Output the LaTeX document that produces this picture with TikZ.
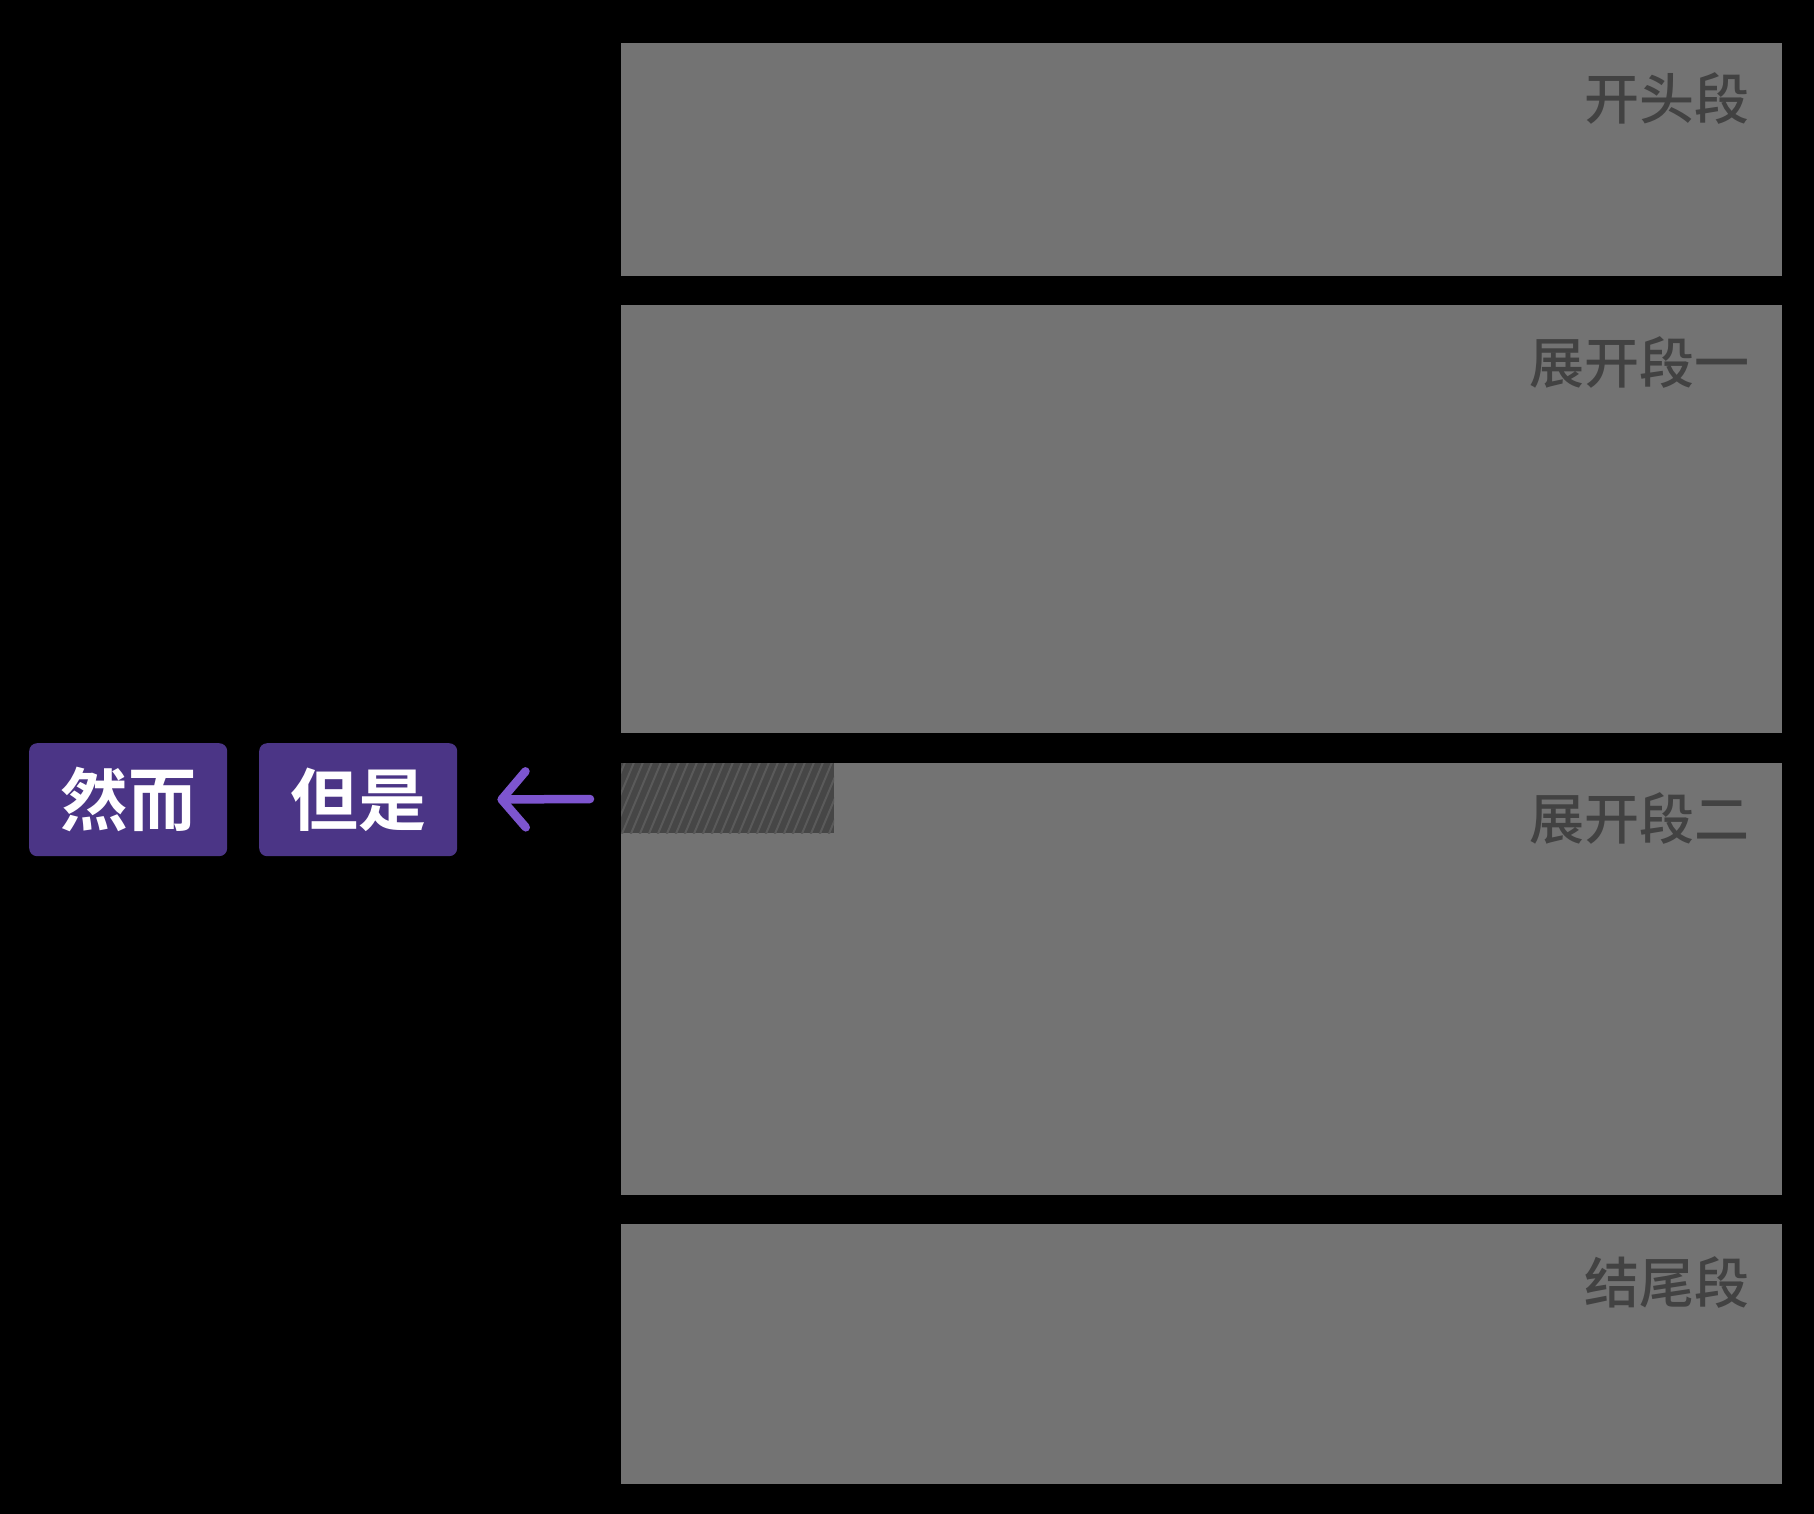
\documentclass[tikz,border=0pt]{standalone}
\usepackage{fontspec}
\newfontfamily\cjkm{Noto Sans CJK SC Medium}
\newfontfamily\cjkb{Noto Sans CJK SC Bold}
\usetikzlibrary{arrows.meta}
\definecolor{bgc}{HTML}{000000}
\definecolor{boxc}{HTML}{737373}
\definecolor{lblc}{HTML}{424242}
\definecolor{tagc}{HTML}{4B3586}
\definecolor{arrc}{HTML}{7D55CF}
\definecolor{hatchbg}{HTML}{464646}
\definecolor{hatchln}{HTML}{5A5A5A}
\tikzset{
  seg/.style={fill=boxc, draw=none, rectangle, anchor=north west, inner sep=0pt, minimum width=1161pt},
  lbl/.style={anchor=base east, inner sep=0pt, text=lblc, font=\cjkm\fontsize{55pt}{55pt}\selectfont},
  tag/.style={fill=tagc, rounded corners=8pt, anchor=north west, inner sep=0pt, minimum width=198pt, minimum height=113pt, text=white, font=\cjkb\fontsize{68pt}{68pt}\selectfont},
  arr/.style={draw=arrc, line width=8.5pt, line cap=round, -{Straight Barb[length=24pt,width=56pt,round]}}
}
\begin{document}
\begin{tikzpicture}[x=1pt,y=-1pt]
\fill[bgc] (0,0) rectangle (1814,1514);
\useasboundingbox (0,0) rectangle (1814,1514);
% segments
\node[seg, minimum height=233pt] (b1) at (621,43) {};
\node[seg, minimum height=428pt] (b2) at (621,305) {};
\node[seg, minimum height=432pt] (b3) at (621,763) {};
\node[seg, minimum height=260pt] (b4) at (621,1224) {};
% hatched region
\begin{scope}
\clip (621,763) rectangle (834,833);
\fill[hatchbg] (621,763) rectangle (834,833);
\foreach \x in {585,594,...,840} {
  \draw[hatchln, line width=2pt] (\x,836) -- (\x+32,760);
}
\end{scope}
% labels
\node[lbl] (l1) at (1750,120) {开头段};
\node[lbl] (l2) at (1750,383) {展开段一};
\node[lbl] (l3) at (1750,839) {展开段二};
\node[lbl] (l4) at (1750,1303) {结尾段};
% tags
\node[tag] (t1) at (29,743) {然而};
\node[tag] (t2) at (259,743) {但是};
% arrow
\coordinate (as) at (590,799);
\draw[arr] (as) -- (t2.east) [shorten >=40pt];
\end{tikzpicture}
\end{document}
